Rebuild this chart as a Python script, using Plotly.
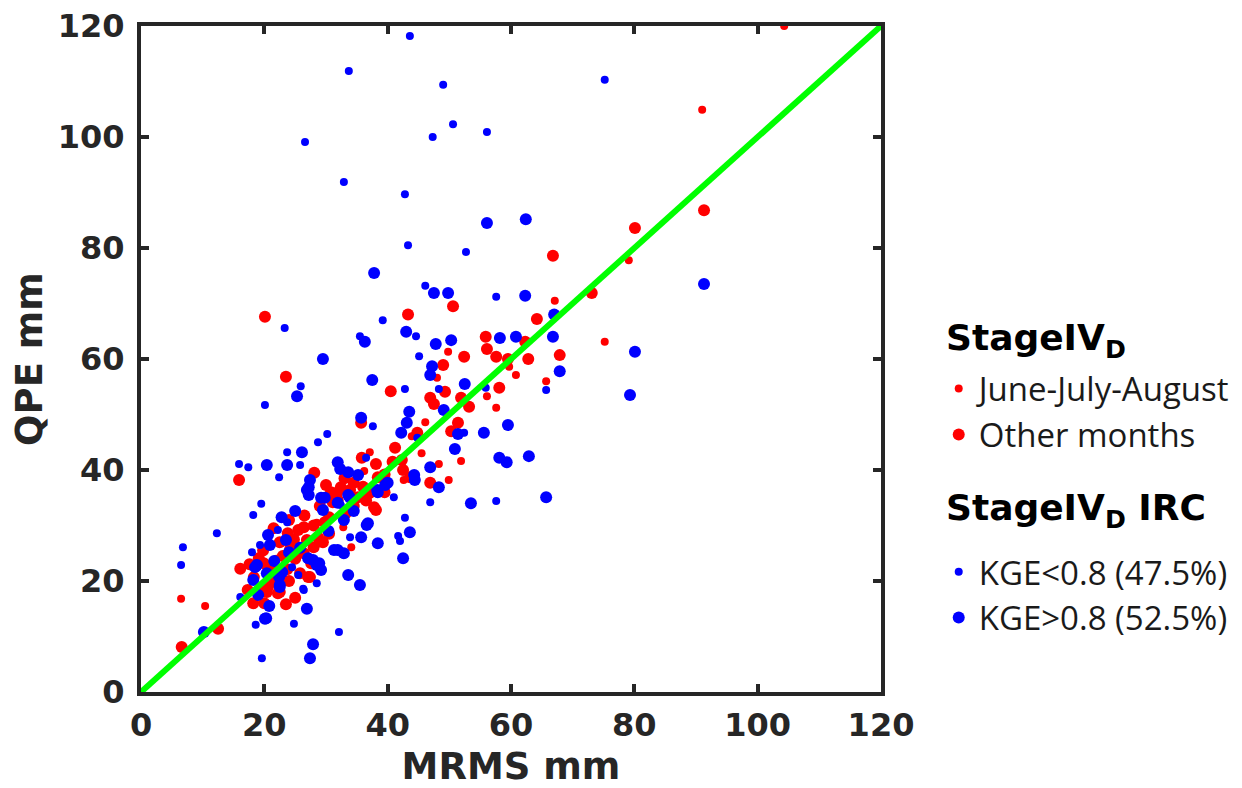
import plotly.graph_objects as go

# ---- data (MRMS mm, QPE mm) ----
jja_x = [104.3, 91.0, 79.1, 67.1, 75.2, 49.8, 48.0, 60.8, 59.7, 65.7, 56.1, 57.6, 46.1, 43.9, 51.9,
         48.3, 42.6, 49.9, 37.1, 36.2, 32.8, 34.1, 6.5, 10.4, 22.0, 28.5, 45.5]
jja_y = [120.0, 104.9, 77.8, 70.5, 63.1, 61.3, 56.6, 57.1, 58.6, 56.0, 53.3, 51.2, 48.6, 46.1, 41.6,
         41.1, 38.2, 38.2, 43.2, 39.8, 29.7, 26.1, 16.8, 15.5, 24.0, 30.5, 43.0]

oth_x = [91.3, 80.1, 66.8, 50.6, 73.1, 43.3, 64.2, 55.9, 62.3, 56.1, 52.4, 57.6, 59.5, 62.8, 67.9,
         49.0, 40.5, 49.3, 58.1, 46.9, 47.5, 51.9, 53.2, 51.4, 50.3, 44.8, 41.2, 42.3, 42.5, 43.6,
         46.9, 20.1, 23.5, 35.7, 35.8, 38.1, 28.1, 15.9, 38.4, 30.0, 32.4, 34.5, 31.8, 33.9, 31.1,
         35.2, 37.8, 38.1, 31.9, 23.8, 25.5, 26.4, 26.9, 28.0, 28.7, 19.1, 19.9, 18.3, 17.3, 19.5,
         20.6, 22.2, 27.1, 27.6, 26.4, 16.1, 12.5, 6.6, 18.2, 20.4, 22.5, 25.8, 27.4, 23.7, 21.1,
         24.2, 22.5, 25.0, 21.5, 23.0, 29.8, 30.5, 33.2, 36.5, 39.5,
         21.5, 24.0, 26.5, 28.0, 24.8, 19.8, 17.6, 21.0, 24.0, 25.0, 23.5, 20.0, 29.5, 30.5, 29.0,
         33.0, 36.0, 37.0, 39.5, 40.8, 34.5, 30.8]
oth_y = [86.8, 83.6, 78.6, 69.5, 71.9, 68.0, 67.2, 64.0, 63.1, 61.8, 60.4, 60.4, 60.0, 60.0, 60.7,
         58.9, 54.2, 54.1, 54.8, 53.0, 51.9, 53.0, 51.4, 48.5, 47.0, 46.7, 44.0, 41.8, 40.0, 38.7,
         37.7, 67.6, 56.8, 48.5, 42.2, 41.1, 39.5, 38.2, 38.7, 37.3, 36.9, 37.7, 35.9, 36.4, 34.2,
         35.1, 33.3, 32.8, 34.6, 28.6, 29.2, 29.7, 27.4, 26.1, 27.9, 24.1, 23.2, 20.7, 18.4, 18.4,
         18.9, 17.8, 20.7, 23.2, 25.0, 22.2, 11.4, 8.1, 16.0, 18.0, 18.0, 21.4, 20.7, 22.1, 22.6,
         25.8, 27.0, 24.0, 20.5, 24.5, 30.6, 28.5, 32.2, 34.5, 36.0,
         29.5, 31.0, 31.8, 30.0, 27.5, 25.5, 23.0, 19.8, 20.0, 17.0, 15.8, 16.0, 27.0, 31.5, 33.5,
         38.5, 37.0, 35.8, 39.2, 41.5, 33.5, 36.0]

klo_x = [43.6, 33.7, 49.0, 50.6, 47.3, 56.1, 26.6, 32.9, 42.8, 43.3, 52.7, 75.2, 46.1, 57.6, 44.6,
         45.1, 65.7, 42.8, 48.3, 55.9, 52.4, 46.9, 57.6, 41.0, 42.8, 41.7, 42.0, 23.3, 39.2, 35.5,
         25.9, 20.1, 37.6, 30.2, 28.7, 23.7, 36.5, 15.9, 17.4, 25.8, 22.4, 19.5, 18.2, 12.3, 23.7,
         6.8, 6.5, 19.6, 16.1, 18.6, 24.8, 26.3, 32.1, 28.5, 33.9, 32.4, 38.6, 44.8, 22.2, 19.3,
         18.0, 24.5, 25.5, 26.4, 18.2]
klo_y = [118.2, 111.9, 109.4, 102.3, 100.0, 100.9, 99.1, 91.9, 89.7, 80.5, 79.3, 110.3, 73.2, 71.2, 64.1,
         60.5, 54.4, 54.6, 54.6, 54.8, 46.7, 34.2, 34.4, 35.1, 31.4, 28.1, 27.2, 65.6, 67.0, 64.1,
         55.1, 51.7, 47.9, 46.5, 45.0, 43.2, 42.2, 41.1, 40.5, 40.9, 38.7, 33.9, 31.9, 28.6, 30.6,
         26.1, 22.9, 6.1, 17.1, 12.1, 12.3, 18.6, 10.8, 19.6, 27.9, 33.7, 36.4, 45.8, 29.2, 26.5,
         25.2, 22.5, 21.1, 18.4, 20.4]

khi_x = [56.1, 62.4, 91.3, 80.1, 47.5, 49.8, 62.3, 67.0, 43.0, 47.8, 50.3, 58.2, 60.8, 66.8, 47.2,
         46.9, 67.9, 79.3, 52.5, 43.5, 49.1, 43.1, 42.2, 51.4, 55.6, 59.5, 50.9, 58.1, 59.3, 62.9,
         46.9, 44.3, 44.4, 48.3, 53.5, 65.7, 43.6, 42.5, 37.8, 36.3, 29.5, 25.3, 37.5, 35.7, 26.1,
         20.4, 23.7, 31.9, 32.3, 33.6, 35.2, 25.0, 10.2, 18.5, 20.3, 20.8, 22.5, 26.9, 27.9, 27.4,
         35.5, 33.6, 38.4, 35.7, 36.6, 31.9, 32.9, 29.2, 27.2, 27.2, 29.5, 33.6, 38.4, 40.0, 32.9,
         36.8, 31.9, 27.4, 26.9, 29.8, 33.9, 39.6, 38.3, 20.6, 20.9, 23.5, 18.8, 18.2, 20.4, 22.9,
         22.5, 27.1, 28.9, 27.9, 29.2, 31.3, 19.0, 20.1, 28.5, 22.4,
         21.6, 24.0, 25.8, 22.8, 30.4, 34.5]
khi_y = [84.5, 85.2, 73.5, 61.3, 71.9, 71.9, 71.4, 68.0, 64.9, 62.7, 63.4, 63.8, 64.0, 64.0, 58.7,
         57.1, 57.8, 53.5, 55.5, 50.5, 50.8, 48.5, 46.7, 46.5, 46.7, 48.1, 43.8, 42.2, 41.4, 42.5,
         40.5, 39.1, 38.2, 36.9, 34.0, 35.1, 28.8, 24.1, 75.5, 63.1, 60.0, 53.3, 56.2, 49.4, 43.2,
         40.9, 40.9, 41.4, 40.2, 39.6, 39.1, 32.6, 10.8, 22.5, 13.3, 15.5, 18.9, 15.0, 8.6, 6.1,
         19.3, 21.1, 26.8, 27.9, 30.1, 25.6, 25.0, 35.0, 35.5, 36.9, 32.8, 35.5, 36.0, 37.7, 31.0,
         30.4, 34.1, 38.2, 36.4, 35.0, 35.0, 37.3, 36.4, 28.3, 26.5, 27.4, 22.9, 20.2, 21.4, 21.6,
         19.3, 24.1, 23.2, 23.8, 22.0, 25.6, 17.5, 13.2, 22.9, 20.7,
         23.6, 25.2, 26.0, 31.5, 29.0, 32.6]

one_to_one = [0, 120]

ticks = [0, 20, 40, 60, 80, 100, 120]
tick_labels = ["0", "20", "40", "60", "80", "100", "120"]

RED = "#FF0000"
BLUE = "#0000FF"
FRAME = "#262626"
SMALL, LARGE = 8, 12

fig = go.Figure()
fig.add_trace(go.Scatter(x=jja_x, y=jja_y, mode="markers", name="June-July-August",
                         marker=dict(color=RED, size=SMALL, line=dict(width=0)), legend="legend"))
fig.add_trace(go.Scatter(x=oth_x, y=oth_y, mode="markers", name="Other months",
                         marker=dict(color=RED, size=LARGE, line=dict(width=0)), legend="legend"))
fig.add_trace(go.Scatter(x=klo_x, y=klo_y, mode="markers", name="KGE<0.8 (47.5%)",
                         marker=dict(color=BLUE, size=SMALL, line=dict(width=0)), legend="legend2"))
fig.add_trace(go.Scatter(x=khi_x, y=khi_y, mode="markers", name="KGE>0.8 (52.5%)",
                         marker=dict(color=BLUE, size=LARGE, line=dict(width=0)), legend="legend2"))
fig.add_trace(go.Scatter(x=one_to_one, y=one_to_one, mode="lines", showlegend=False,
                         line=dict(color="#00FF00", width=6), cliponaxis=False))

axis_common = dict(
    range=[0, 120], tickvals=ticks, ticktext=tick_labels,
    showgrid=False, zeroline=False, automargin=False, ticklabeloverflow="allow",
    showline=True, linecolor=FRAME, linewidth=4, mirror="ticks",
    ticks="inside", ticklen=8, tickwidth=4, tickcolor=FRAME,
    tickfont=dict(family="DejaVu Sans", size=32, color=FRAME, weight="bold"),
)

leg_font = dict(family="Open Sans", size=33, color="#1a1a1a")
title_font = dict(family="DejaVu Sans", size=36, color="black", weight="bold")

fig.update_layout(
    width=1234, height=780,
    margin=dict(l=133, r=361, t=18, b=96, autoexpand=False),
    paper_bgcolor="white", plot_bgcolor="white",
    xaxis=dict(axis_common, ticklabelstandoff=2,
               title=dict(text="MRMS mm", standoff=14,
                          font=dict(family="DejaVu Sans", size=37, color=FRAME, weight="bold"))),
    yaxis=dict(axis_common, ticklabelstandoff=6,
               title=dict(text="QPE mm", standoff=12,
                          font=dict(family="DejaVu Sans", size=37, color=FRAME, weight="bold"))),
    legend=dict(x=1.078, y=0.421, xanchor="left", yanchor="middle", font=leg_font,
                bgcolor="rgba(0,0,0,0)", itemsizing="trace"),
    legend2=dict(x=1.078, y=0.146, xanchor="left", yanchor="middle", font=leg_font,
                 bgcolor="rgba(0,0,0,0)", itemsizing="trace"),
    showlegend=True,
    annotations=[
        dict(text="<b>StageIV<sub>D</sub></b>", xref="paper", yref="paper",
             x=1.0845, y=0.5285, xanchor="left", yanchor="middle", showarrow=False,
             font=title_font),
        dict(text="<b>StageIV<sub>D</sub> IRC</b>", xref="paper", yref="paper",
             x=1.0845, y=0.273, xanchor="left", yanchor="middle", showarrow=False,
             font=title_font),
    ],
)

fig.write_html("out.html")
